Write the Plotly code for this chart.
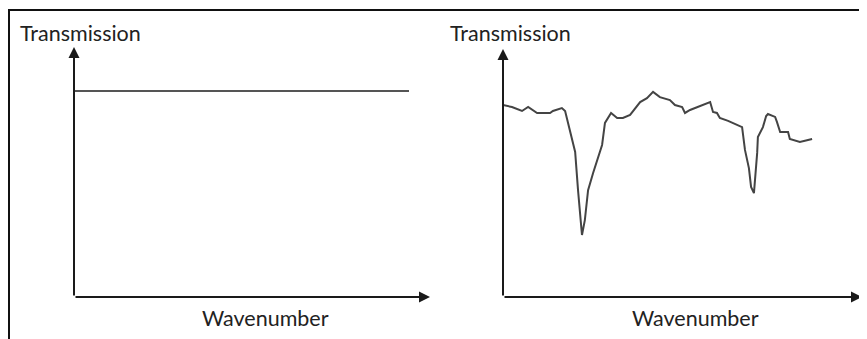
import plotly.graph_objects as go

# page body has an 8px default margin, so the figure is 8px smaller and offset
OFF = 8
W, H = 867 - OFF, 339 - OFF

# ---- data (arbitrary units, 0-100 on each schematic axis) ----
flat_wavenumber = [0.0, 94.1]
flat_transmission = [82.4, 82.4]

spec_wavenumber = [0, 2.5, 5.3, 7.0, 9.5, 13.1, 13.9, 16.4, 17.3, 18.7, 20.1, 20.9, 22.0, 22.8,
                   23.7, 25.1, 27.6, 28.4, 30.1, 31.8, 33.4, 35.4, 38.2, 40.1, 41.8, 43.7, 46.5,
                   47.9, 49.9, 50.7, 52.1, 57.7, 58.5, 59.6, 60.4, 62.7, 64.1, 66.6, 67.4, 68.5,
                   69.1, 69.9, 70.8, 71.0, 72.4, 73.3, 73.8, 75.8, 76.3, 77.2, 79.4, 79.9, 82.7, 86.1]
spec_transmission = [77.4, 76.6, 75.0, 76.6, 74.2, 74.2, 75.0, 76.2, 75.0, 67.3, 58.5, 43.1, 25.0, 31.0,
                     43.1, 50.0, 61.3, 70.2, 74.2, 72.2, 72.2, 73.4, 78.6, 80.2, 82.7, 80.6, 79.4,
                     77.4, 76.6, 74.2, 75.4, 78.6, 74.6, 74.2, 72.2, 71.0, 70.2, 68.5, 59.3, 52.0,
                     44.4, 41.9, 58.1, 64.5, 68.5, 73.0, 73.8, 72.6, 70.6, 66.5, 66.5, 63.7, 62.5, 63.7]

y_label = "Transmission"
x_label = "Wavenumber"

def px_x(p):
    return (p - OFF) / W

def px_y(p):
    return 1 - (p - OFF) / H

fig = go.Figure()
fig.add_trace(go.Scatter(x=flat_wavenumber, y=flat_transmission, mode="lines",
                         line=dict(color="#555555", width=2), xaxis="x", yaxis="y",
                         hoverinfo="skip", showlegend=False))
fig.add_trace(go.Scatter(x=spec_wavenumber, y=spec_transmission, mode="lines",
                         line=dict(color="#444444", width=2), xaxis="x2", yaxis="y2",
                         hoverinfo="skip", showlegend=False))

ax_common = dict(visible=False, fixedrange=True)
fig.update_layout(
    width=W, height=H, margin=dict(l=0, r=0, t=0, b=0),
    paper_bgcolor="white", plot_bgcolor="rgba(0,0,0,0)",
    xaxis=dict(domain=[px_x(74), px_x(430)], range=[0, 100], **ax_common),
    yaxis=dict(domain=[px_y(297), px_y(47)], range=[0, 100], **ax_common),
    xaxis2=dict(domain=[px_x(503), px_x(862)], range=[0, 100], anchor="y2", **ax_common),
    yaxis2=dict(domain=[px_y(297), px_y(49)], range=[0, 100], anchor="x2", **ax_common),
    font=dict(family="Lato, Open Sans, sans-serif", color="#222222"),
)

# frame (left and top sides)
fig.add_shape(type="path", xref="paper", yref="paper",
              path=f"M {px_x(9)} 0 L {px_x(9)} {px_y(10)} L 1 {px_y(10)}",
              line=dict(color="#111111", width=2))

annos = []
for xr, yr in (("x", "y"), ("x2", "y2")):
    # y-axis arrow
    annos.append(dict(x=0, y=100, ax=0, ay=0, xref=xr, yref=yr, axref=xr, ayref=yr,
                      text="", showarrow=True, arrowhead=2, arrowsize=1.1, arrowwidth=2,
                      arrowcolor="#1a1a1a", standoff=0, startstandoff=0))
    # x-axis arrow
    annos.append(dict(x=100, y=0, ax=0, ay=0, xref=xr, yref=yr, axref=xr, ayref=yr,
                      text="", showarrow=True, arrowhead=2, arrowsize=1.1, arrowwidth=2,
                      arrowcolor="#1a1a1a", standoff=0, startstandoff=0))

for lx, cx in ((18, 265), (448, 695)):
    annos.append(dict(x=px_x(lx), y=px_y(33), xref="paper", yref="paper", text=y_label,
                      showarrow=False, xanchor="left", yanchor="middle",
                      font=dict(size=21.5)))
    annos.append(dict(x=px_x(cx), y=px_y(318), xref="paper", yref="paper", text=x_label,
                      showarrow=False, xanchor="center", yanchor="middle",
                      font=dict(size=21.5)))
fig.update_layout(annotations=annos)

fig.write_html("out.html", config={"displayModeBar": False})
